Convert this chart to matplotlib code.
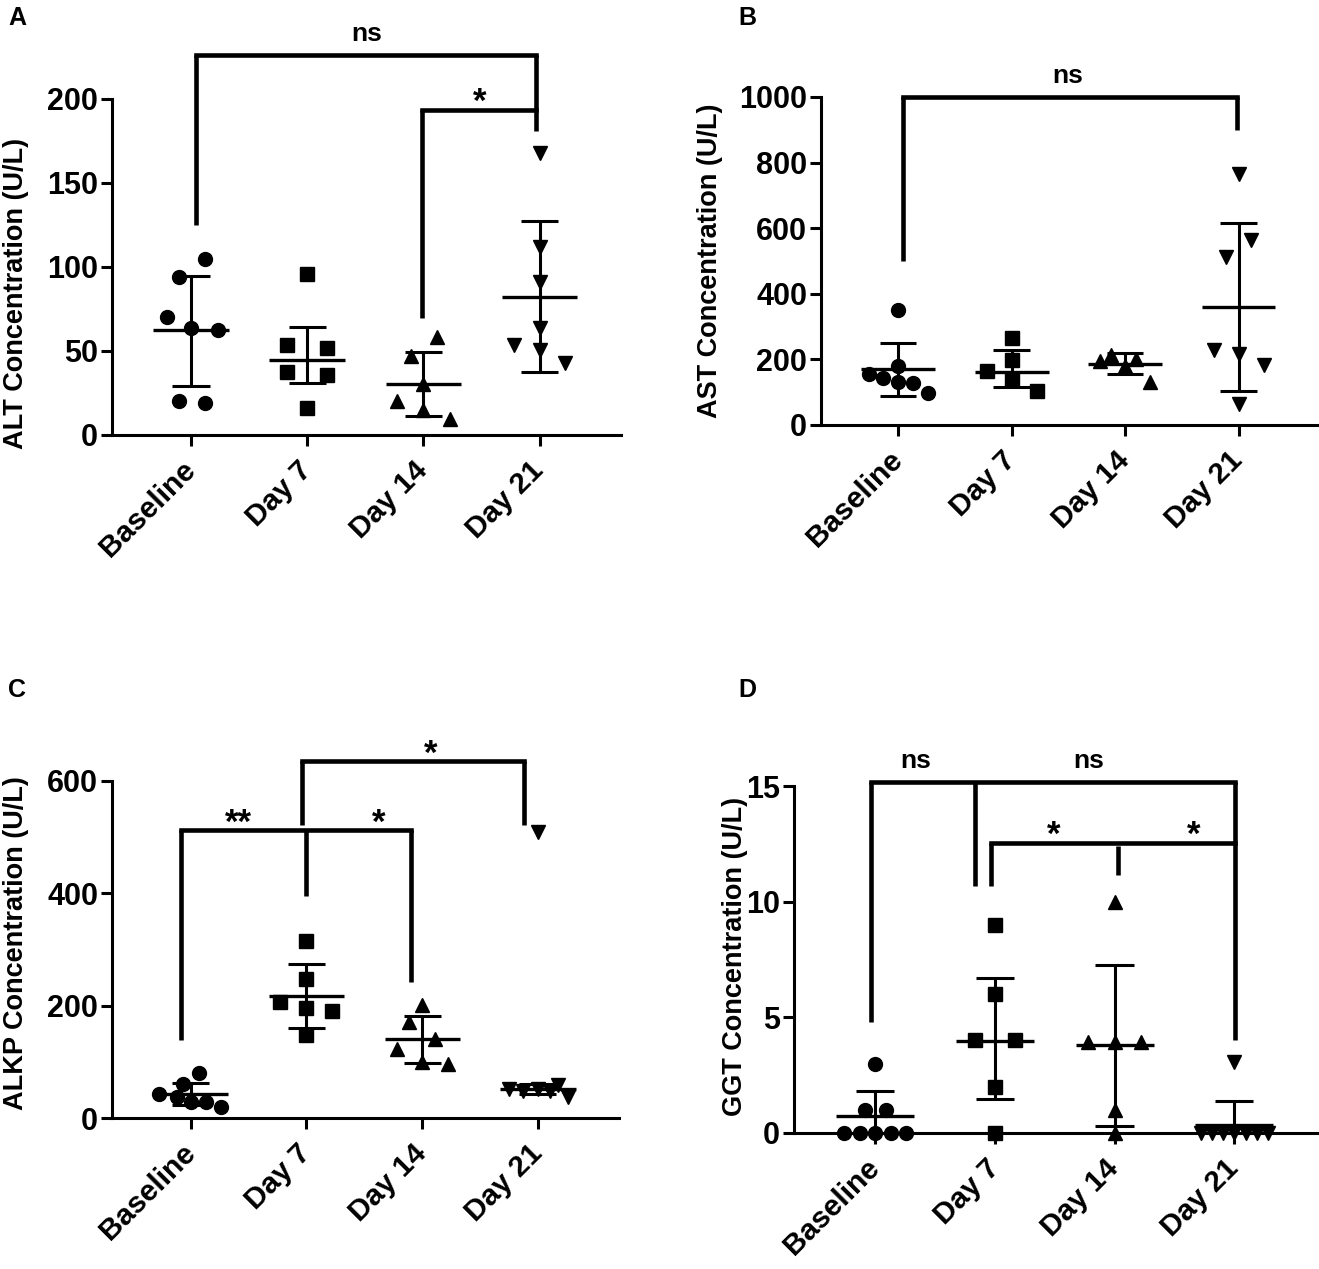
import numpy as np
import matplotlib
matplotlib.use("Agg")
from matplotlib import pyplot as plt

plt.rcParams['font.family'] = ['Liberation Sans', 'DejaVu Sans']
plt.rcParams['font.weight'] = 'bold'

groups = ["Baseline", "Day 7", "Day 14", "Day 21"]
group_markers = ["o", "s", "^", "v"]

# A - ALT (U/L): points per group, horizontal scatter offsets, mean and error bar ends
alt_vals = [
    [104.7, 94.3, 70.5, 63.6, 62.6, 20.5, 18.9],
    [95.7, 53.6, 51.6, 37.3, 35.7, 15.9],
    [58.6, 47.1, 30.4, 20.5, 14.9, 9.3],
    [167.8, 112.2, 90.8, 63.6, 53.6, 50.6, 42.7],
]
alt_offsets = [
    [0.12, -0.10, -0.21, 0.0, 0.23, -0.10, 0.12],
    [0.0, -0.17, 0.17, -0.17, 0.17, 0.0],
    [0.115, -0.11, 0.0, -0.225, 0.0, 0.225],
    [0.0, 0.0, 0.0, 0.0, -0.22, 0.0, 0.22],
]
alt_mean = [62.6, 44.7, 30.4, 82.4]
alt_low = [29.4, 30.8, 11.5, 37.3]
alt_high = [94.9, 64.2, 49.7, 127.1]

# B - AST (U/L)
ast_vals = [
    [349.5, 180, 157, 144, 130, 127, 99],
    [265, 198, 164, 137, 103],
    [194, 213, 200, 179, 132],
    [765, 564, 512, 230, 215, 184, 63],
]
ast_offsets = [
    [0.0, 0.0, -0.26, -0.13, 0.0, 0.13, 0.26],
    [0.0, 0.0, -0.22, 0.0, 0.22],
    [-0.22, -0.12, 0.10, 0.0, 0.22],
    [0.0, 0.11, -0.11, -0.22, 0.0, 0.22, 0.0],
]
ast_mean = [170, 162, 186, 360]
ast_low = [88, 117, 157, 104]
ast_high = [251, 230, 218, 616]

# C - ALKP (U/L)
alkp_vals = [
    [80, 61, 42, 37.5, 28.5, 28.5, 19.6],
    [316, 248, 207, 195, 190, 148],
    [201, 171, 140, 123, 100, 97],
    [509, 52, 48, 52, 48, 58, 37],
]
alkp_offsets = [
    [0.07, -0.07, -0.27, -0.12, 0.0, 0.13, 0.26],
    [0.0, 0.0, -0.23, 0.0, 0.22, 0.0],
    [0.0, -0.11, 0.11, -0.22, 0.0, 0.22],
    [0.0, -0.25, -0.13, 0.0, 0.10, 0.17, 0.26],
]
alkp_mean = [43, 217, 140, 52]
alkp_low = [22.5, 160, 98.5, 43]
alkp_high = [63, 275, 182, 61]

# D - GGT (U/L)
ggt_vals = [
    [3, 1, 1, 0, 0, 0, 0, 0],
    [9, 6, 4, 4, 2, 0],
    [10, 3.92, 3.92, 3.92, 0.98, 0],
    [3.06, 0, 0, 0, 0, 0, 0, 0],
]
ggt_offsets = [
    [0.0, -0.085, 0.085, -0.26, -0.13, 0.0, 0.13, 0.26],
    [0.0, 0.0, -0.17, 0.17, 0.0, 0.0],
    [0.0, -0.22, 0.0, 0.22, 0.0, 0.0],
    [0.0, -0.28, -0.19, -0.095, 0.0, 0.095, 0.19, 0.28],
]
ggt_mean = [0.72, 3.99, 3.82, 0.33]
ggt_low = [0, 1.46, 0.3, 0]
ggt_high = [1.81, 6.69, 7.26, 1.40]

# significance brackets: (x_left, x_right, y_top, [(x, y_from, y_to) drops])
alt_brackets = [
    (0.04, 2.97, 226, [(0.04, 226, 125), (2.97, 226, 180.7)]),
    (1.99, 2.97, 193.5, [(1.99, 193.5, 69.5)]),
]
alt_labels = [("ns", 1.51, 226), ("*", 2.48, 193.5)]

ast_brackets = [
    (0.04, 2.99, 1000, [(0.04, 1000, 501), (2.99, 1000, 899)]),
]
ast_labels = [("ns", 1.49, 1000)]

alkp_brackets = [
    (-0.08, 1.9, 512, [(-0.08, 512, 138), (1.0, 512, 396), (1.9, 512, 242)]),
    (0.96, 2.88, 635, [(0.96, 635, 521), (2.88, 635, 521)]),
]
alkp_labels = [("**", 0.41, 512), ("*", 1.62, 512), ("*", 2.07, 635)]

ggt_brackets = [
    (-0.04, 3.01, 15.19, [(-0.04, 15.19, 4.78), (0.836, 15.19, 10.66), (3.01, 15.19, 4.0)]),
    (0.967, 3.01, 12.53, [(0.967, 12.53, 10.69), (2.03, 12.39, 11.15)]),
]
ggt_labels = [("ns", 0.34, 15.19), ("ns", 1.78, 15.19), ("*", 1.49, 12.53), ("*", 2.66, 12.53)]

W, H = 1319, 1269
fig = plt.figure(figsize=(W / 100, H / 100), dpi=100)


def px_axes(left, right, top, bottom):
    return fig.add_axes([left / W, 1 - bottom / H, (right - left) / W, (bottom - top) / H])


def panel(ax, vals, offsets, mean, low, high, ymax, yticks, ylabel, brackets, labels, label_xy):
    x = np.arange(len(groups))
    for i in range(len(groups)):
        ax.plot(i + np.array(offsets[i]), vals[i], linestyle='none', marker=group_markers[i],
                color='black', markersize=10 if group_markers[i] != 's' else 9.5,
                clip_on=False, zorder=3)
    ax.hlines(mean, x - 0.325, x + 0.325, colors='black', lw=2.4, clip_on=False, zorder=4)
    ax.vlines(x, low, high, colors='black', lw=2.2, clip_on=False, zorder=4)
    ax.hlines(low, x - 0.16, x + 0.16, colors='black', lw=2.2, clip_on=False, zorder=4)
    ax.hlines(high, x - 0.16, x + 0.16, colors='black', lw=2.2, clip_on=False, zorder=4)

    for xl, xr, yt, drops in brackets:
        ax.plot([xl, xr], [yt, yt], color='black', lw=3.3, clip_on=False, solid_capstyle='projecting')
        for xd, y0, y1 in drops:
            ax.plot([xd, xd], [y0, y1], color='black', lw=3.3, clip_on=False, solid_capstyle='butt')
    for txt, tx, ty in labels:
        if txt == "ns":
            dy, fs = 10, 19
        else:
            dy, fs = -1.5, 25
        ax.annotate(txt, xy=(tx, ty), xytext=(0, dy), textcoords='offset points',
                    ha='center', va='baseline', fontsize=fs, fontweight='bold',
                    annotation_clip=False)

    ax.set_xlim(-0.68, 3.7)
    ax.set_ylim(0, ymax)
    ax.set_yticks(yticks)
    ax.set_xticks(x)
    ax.set_xticklabels(groups, rotation=45, ha='right', va='center', rotation_mode='anchor',
                       fontsize=21.5, fontweight='bold')
    for lab in ax.get_yticklabels():
        lab.set_fontsize(22)
        lab.set_fontweight('bold')
    ax.tick_params(axis='y', length=8, width=2.2, pad=2)
    ax.tick_params(axis='x', length=8, width=2.2, pad=14)
    for side in ['top', 'right']:
        ax.spines[side].set_visible(False)
    for side in ['left', 'bottom']:
        ax.spines[side].set_linewidth(2.2)
    ax.set_ylabel(ylabel, fontsize=19.5, fontweight='bold')
    ax.yaxis.set_label_coords(*label_xy)


axA = px_axes(112, 621, 99, 435)
panel(axA, alt_vals, alt_offsets, alt_mean, alt_low, alt_high, 200, [0, 50, 100, 150, 200],
      "ALT Concentration (U/L)", alt_brackets, alt_labels, (-0.163, 0.42))

axB = px_axes(821, 1318, 97, 425)
panel(axB, ast_vals, ast_offsets, ast_mean, ast_low, ast_high, 1000, [0, 200, 400, 600, 800, 1000],
      "AST Concentration (U/L)", ast_brackets, ast_labels, (-0.197, 0.5))

axC = px_axes(112, 619, 781, 1118)
panel(axC, alkp_vals, alkp_offsets, alkp_mean, alkp_low, alkp_high, 600, [0, 200, 400, 600],
      "ALKP Concentration (U/L)", alkp_brackets, alkp_labels, (-0.163, 0.52))

axD = px_axes(794, 1318, 786, 1133)
panel(axD, ggt_vals, ggt_offsets, ggt_mean, ggt_low, ggt_high, 15, [0, 5, 10, 15],
      "GGT Concentration (U/L)", ggt_brackets, ggt_labels, (-0.088, 0.51))

for letter, lx, ly in [("A", 8, 6), ("B", 738, 6), ("C", 8, 678), ("D", 738, 678)]:
    fig.text(lx / W, 1 - ly / H, letter, fontsize=18, fontweight='bold', ha='left', va='top')

fig.savefig("out.png", dpi=100)
